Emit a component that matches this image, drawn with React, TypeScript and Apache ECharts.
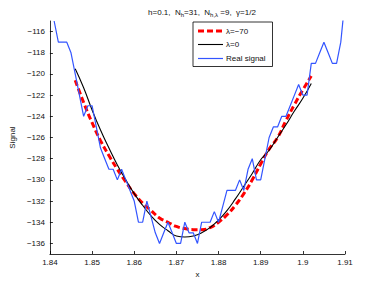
import React, { useEffect, useRef } from "react";
import * as echarts from "echarts";

const xTickMin = 1.84;
const xTickMax = 1.91;
const xTickStep = 0.01;
const yMin = -137;
const yMax = -115;
const yTicks = [-136, -134, -132, -130, -128, -126, -124, -122, -120, -118, -116];
const legendNames = ["\u03bb=\u221270", "\u03bb=0", "Real signal"];

const signalX = [
  1.841, 1.842, 1.843, 1.844, 1.845, 1.846, 1.847, 1.848, 1.849, 1.85,
  1.851, 1.852, 1.853, 1.854, 1.855, 1.856, 1.857, 1.858, 1.859, 1.86,
  1.861, 1.862, 1.863, 1.864, 1.865, 1.866, 1.867, 1.868, 1.869, 1.87,
  1.871, 1.872, 1.873, 1.874, 1.875, 1.876, 1.877, 1.878, 1.879, 1.88,
  1.881, 1.882, 1.883, 1.884, 1.885, 1.886, 1.887, 1.888, 1.889, 1.89,
  1.891, 1.892, 1.893, 1.894, 1.895, 1.896, 1.897, 1.898, 1.899, 1.9,
  1.901, 1.902, 1.903, 1.904, 1.905, 1.906, 1.907, 1.908, 1.909, 1.91,
];
const signalY = [
  -115, -117, -117, -117, -118, -120, -122, -124, -123, -123,
  -125, -127, -128, -129, -129, -130, -129, -130, -131, -132,
  -134, -134, -132, -133.5, -135, -136, -135, -134, -135, -136,
  -136, -134, -135, -135, -136, -134, -134, -134, -133, -134,
  -132.5, -131, -131, -131, -130, -131, -129, -128, -130, -130,
  -128, -126, -125, -125, -124, -124, -123, -122, -121, -122,
  -122, -119, -119, -118, -117, -118, -119, -119, -117, -113,
];

const fitX = [
  1.846, 1.848, 1.85, 1.852, 1.854, 1.856, 1.858, 1.86, 1.862, 1.864,
  1.866, 1.868, 1.87, 1.872, 1.874, 1.876, 1.878, 1.88, 1.882, 1.884,
  1.886, 1.888, 1.89, 1.892, 1.894, 1.896, 1.898, 1.9, 1.902,
];
const lambdaNeg70 = [
  -120.6, -122.7, -124.6, -126.3, -127.7, -129.0, -130.2, -131.3, -132.2, -132.9,
  -133.6, -134.0, -134.4, -134.6, -134.7, -134.7, -134.5, -134.0, -133.3, -132.4,
  -131.3, -130.0, -128.5, -127.1, -126.0, -124.4, -122.9, -121.5, -120.2,
];
const lambdaZero = [
  -119.5, -121.3, -123.4, -125.3, -127.0, -128.6, -130.0, -131.3, -132.4, -133.4,
  -134.2, -134.8, -135.3, -135.4, -135.3, -135.0, -134.5, -133.8, -132.9, -131.8,
  -130.6, -129.4, -128.1, -127.2, -126.0, -124.8, -123.5, -122.3, -120.9,
];

const FONT = "Liberation Sans, Arial, sans-serif";
const TXT = "#111";
const minus = (v: number) => String(v).replace("-", "\u2212");

const RED = { stroke: "#ff0000", lineWidth: 3, lineDash: [6, 3] };
const BLACK = { stroke: "#000", lineWidth: 1.1 };
const BLUE = { stroke: "#3355ff", lineWidth: 1.2 };

export default function App() {
  const ref = useRef<HTMLDivElement>(null);
  useEffect(() => {
    document.body.style.margin = "0";
    if (!ref.current) return;
    const chart = echarts.init(ref.current, undefined, { renderer: "svg" });
    const pair = (xs: number[], ys: number[]) => xs.map((x, i) => [x, ys[i]]);
    const lx0 = 198, lx1 = 223, ltx = 226;
    const rows = [31, 44.5, 58.5];
    const styles = [RED, BLACK, BLUE];
    const legendEls: any[] = [
      {
        type: "rect",
        shape: { x: 193, y: 22, width: 79.5, height: 44.5 },
        style: { fill: "#fff", stroke: "#000", lineWidth: 0.8 },
        z: 100,
      },
    ];
    rows.forEach((y, i) => {
      legendEls.push({
        type: "line",
        shape: { x1: lx0, y1: y, x2: lx1, y2: y },
        style: { ...styles[i], fill: null },
        z: 101,
      });
      legendEls.push({
        type: "text",
        x: ltx,
        y,
        style: {
          text: legendNames[i],
          font: `8px ${FONT}`,
          fill: TXT,
          textVerticalAlign: "middle",
          verticalAlign: "middle",
        },
        z: 101,
      });
    });
    chart.setOption({
      animation: false,
      backgroundColor: "#fff",
      textStyle: { fontFamily: FONT },
      title: {
        text: "h=0.1,  N{s|h}=31,  N{s|h,\u03bb} =9,  \u03b3=1/2",
        left: 197,
        top: 1,
        textAlign: "center",
        textStyle: {
          fontFamily: FONT,
          fontSize: 8,
          fontWeight: "normal",
          color: TXT,
          lineHeight: 12,
          rich: {
            s: { fontFamily: FONT, fontSize: 6, color: TXT, lineHeight: 6, verticalAlign: "bottom" },
          },
        },
      },
      grid: { left: 49.5, right: 37, top: 21, bottom: 33 },
      xAxis: {
        type: "value",
        min: xTickMin,
        max: xTickMax,
        interval: xTickStep,
        name: "x",
        nameLocation: "middle",
        nameGap: 13,
        nameTextStyle: { fontFamily: FONT, fontSize: 8, color: TXT },
        axisLine: { lineStyle: { color: "#000", width: 0.8 } },
        axisTick: { inside: true, length: 3, lineStyle: { color: "#000", width: 0.8 } },
        axisLabel: {
          fontFamily: FONT,
          fontSize: 8,
          color: TXT,
          margin: 4,
          formatter: (v: number) => String(parseFloat(v.toFixed(2))),
        },
        splitLine: { show: false },
      },
      yAxis: {
        type: "value",
        min: yMin,
        max: yMax,
        name: "Signal",
        nameLocation: "middle",
        nameGap: 33,
        nameTextStyle: { fontFamily: FONT, fontSize: 8, color: TXT },
        axisLine: { show: true, lineStyle: { color: "#000", width: 0.8 } },
        axisTick: { show: true, inside: true, length: 3, customValues: yTicks, lineStyle: { color: "#000", width: 0.8 } },
        axisLabel: {
          fontFamily: FONT,
          fontSize: 8,
          color: TXT,
          margin: 5,
          customValues: yTicks,
          formatter: (v: number) => minus(v),
        },
        splitLine: { show: false },
      },
      graphic: legendEls,
      series: [
        {
          name: legendNames[0],
          type: "line",
          data: pair(fitX, lambdaNeg70),
          smooth: true,
          symbol: "none",
          lineStyle: { color: RED.stroke, width: RED.lineWidth, type: RED.lineDash },
        },
        {
          name: legendNames[1],
          type: "line",
          data: pair(fitX, lambdaZero),
          smooth: true,
          symbol: "none",
          lineStyle: { color: BLACK.stroke, width: BLACK.lineWidth },
        },
        {
          name: legendNames[2],
          type: "line",
          data: pair(signalX, signalY),
          symbol: "none",
          clip: true,
          lineStyle: { color: BLUE.stroke, width: BLUE.lineWidth },
        },
      ],
    });
    return () => chart.dispose();
  }, []);
  return <div ref={ref} style={{ width: 382, height: 287 }} />;
}
